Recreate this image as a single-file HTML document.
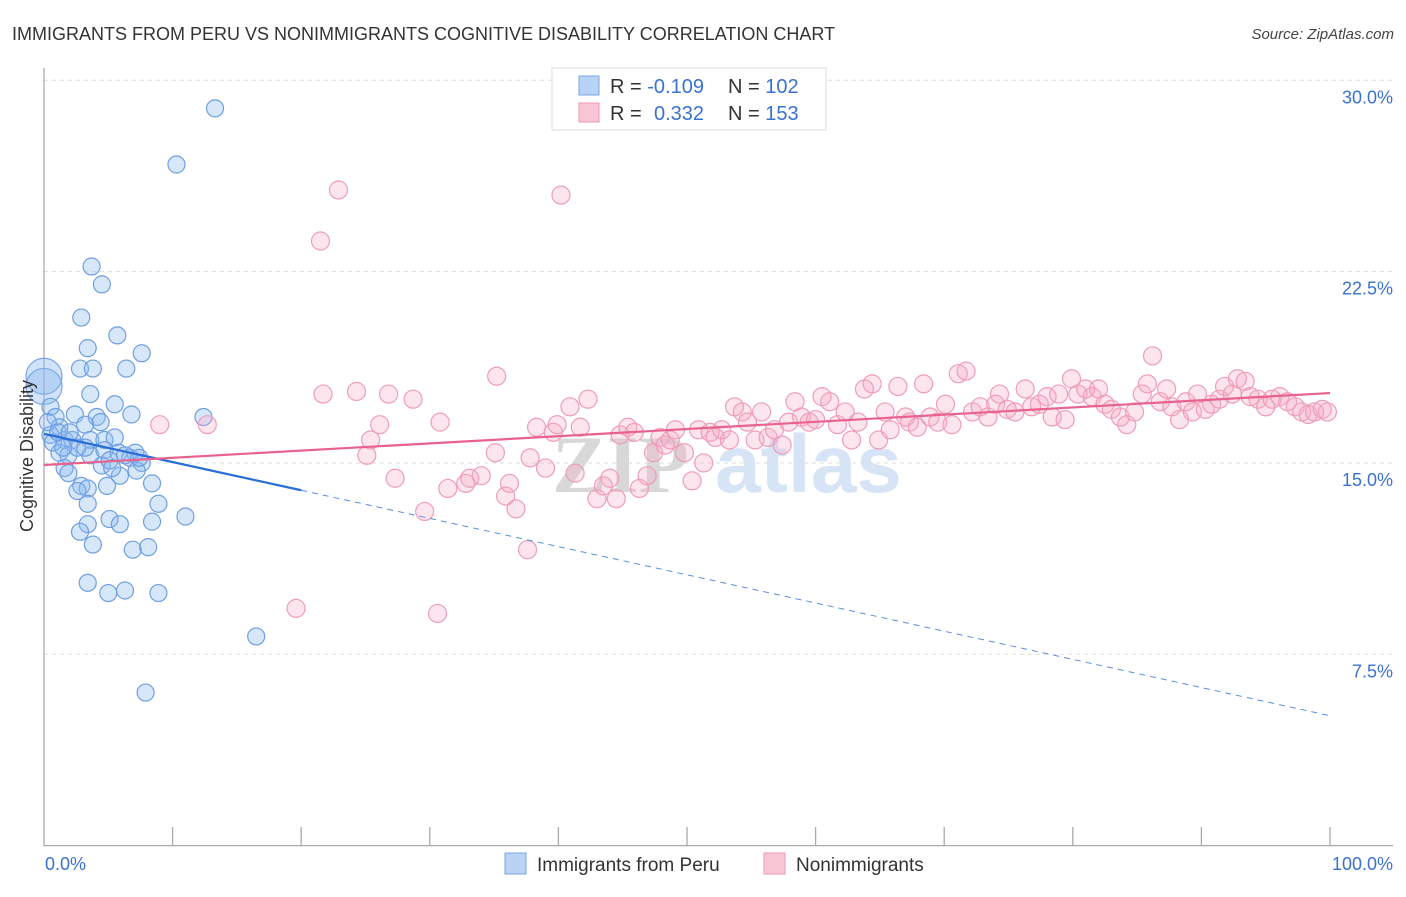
<!DOCTYPE html>
<html><head><meta charset="utf-8"><style>
html,body{margin:0;padding:0;background:#fff;}
body{width:1406px;height:892px;overflow:hidden;font-family:"Liberation Sans",sans-serif;}
</style></head><body>
<svg id="chart" width="1406" height="892" xmlns="http://www.w3.org/2000/svg" font-family="Liberation Sans, sans-serif">
<text x="12" y="40" font-size="18" fill="#333">IMMIGRANTS FROM PERU VS NONIMMIGRANTS COGNITIVE DISABILITY CORRELATION CHART</text>
<text x="1394" y="39" font-size="15" fill="#444" font-style="italic" text-anchor="end">Source: ZipAtlas.com</text>
<g>
<text x="552" y="492" font-size="82" fill="#d8d8d8" font-family="Liberation Serif, serif" font-weight="bold">ZIP</text>
<text x="715" y="492" font-size="82" fill="#d6e4f5" font-weight="bold">atlas</text>
</g>
<g id="grid"></g>
<g id="axes"></g>
<g id="blue"></g>
<g id="pink"></g>
<g id="lines"></g>
<text transform="translate(33,456) rotate(-90)" font-size="18" fill="#333" text-anchor="middle">Cognitive Disability</text>
<g>
<rect x="552" y="68" width="274" height="62" fill="#fff" stroke="#ddd"/>
<rect x="579" y="76" width="20" height="19" fill="#b8d3f5" stroke="#7aa6e6"/>
<rect x="579" y="103" width="20" height="19" fill="#f9c6d5" stroke="#ee9ab4"/>
<text x="610" y="93" font-size="20" fill="#333">R = <tspan fill="#3a72d0">-0.109</tspan><tspan x="728">N = </tspan><tspan fill="#3a72d0">102</tspan></text>
<text x="610" y="120" font-size="20" fill="#333">R = <tspan x="654" fill="#3a72d0">0.332</tspan><tspan x="728">N = </tspan><tspan fill="#3a72d0">153</tspan></text>
</g>
<g>
<rect x="505" y="853" width="21" height="21" fill="#b8d3f5" stroke="#7aa6e6"/>
<text x="537" y="871" font-size="19" fill="#333">Immigrants from Peru</text>
<rect x="764" y="853" width="21" height="21" fill="#f9c6d5" stroke="#ee9ab4"/>
<text x="796" y="871" font-size="19" fill="#333">Nonimmigrants</text>
</g>
</svg>
<script>
const yTicks=[7.5,15,22.5,30];
const yTickLabels=["7.5%","15.0%","22.5%","30.0%"];
const xTicks=[0,10,20,30,40,50,60,70,80,90,100];
const blueX=[13.3,10.3,3.7,4.5,2.9,5.7,3.4,7.6,2.8,3.8,6.4,3.6,5.5,12.4,0.5,0.9,2.4,4.1,6.8,1.2,3.2,4.4,0.5,1.6,2.2,3.6,4.7,5.5,1.2,1.9,3.6,4.7,5.8,6.7,7.1,7.6,1.6,4.5,5.9,7.2,1.9,8.4,2.9,3.4,2.6,4.9,3.4,8.9,11.0,5.1,8.4,3.4,5.9,2.8,3.8,6.9,8.1,3.4,5.0,6.3,8.9,16.5,7.9,0.3,0.7,1.1,2.0,2.6,3.2,1.5,5.1,6.3,7.4,5.3];
const blueY=[28.9,26.7,22.7,22.0,20.7,20.0,19.5,19.3,18.7,18.7,18.7,17.7,17.3,16.8,17.2,16.8,16.9,16.8,16.9,16.4,16.5,16.6,16.1,15.9,15.9,15.9,15.9,16.0,15.4,15.3,15.3,15.5,15.4,15.2,15.4,15.0,14.8,14.9,14.5,14.7,14.6,14.2,14.1,14.0,13.9,14.1,13.4,13.4,12.9,12.8,12.7,12.6,12.6,12.3,11.8,11.6,11.7,10.3,9.9,10.0,9.9,8.2,6.0,16.6,15.8,16.2,16.2,15.6,15.6,15.6,15.1,15.3,15.2,14.8];
const blueBigX=[0,0];
const blueBigY=[18.4,18.0];
const pinkX=[22.9,40.2,21.5,9.0,12.7,19.6,30.6,21.7,24.3,26.8,28.7,35.2,26.1,25.4,25.1,27.3,29.6,30.8,31.4,32.8,33.1,34.0,35.1,35.9,36.2,36.7,37.6,37.8,38.3,39.0,39.6,39.9,40.9,41.3,41.7,42.3,43.0,43.5,44.0,44.5,44.8,45.4,45.9,46.3,46.9,47.4,47.9,48.3,48.7,49.1,49.8,50.4,50.9,51.3,51.8,52.2,52.7,53.3,53.7,54.3,54.7,55.3,55.8,56.3,56.8,57.4,57.9,58.4,58.9,59.5,60.0,60.5,61.1,61.7,62.3,62.8,63.3,63.8,64.4,64.9,65.4,65.8,66.4,67.0,67.3,67.9,68.4,68.9,69.5,70.1,70.6,71.1,71.7,72.2,72.8,73.4,74.0,74.3,74.9,75.5,76.3,76.8,77.4,78.0,78.4,78.9,79.4,79.9,80.4,81.0,81.5,82.0,82.5,83.0,83.7,84.2,84.8,85.4,85.8,86.2,86.8,87.3,87.7,88.3,88.8,89.3,89.7,90.3,90.8,91.4,91.8,92.4,92.8,93.4,93.8,94.4,95.0,95.5,96.1,96.7,97.3,97.8,98.3,98.8,99.4,99.8];
const pinkY=[25.7,25.5,23.7,16.5,16.5,9.3,9.1,17.7,17.8,17.7,17.5,18.4,16.5,15.9,15.3,14.4,13.1,16.6,14.0,14.2,14.4,14.5,15.4,13.7,14.2,13.2,11.6,15.2,16.4,14.8,16.2,16.5,17.2,14.6,16.4,17.5,13.6,14.1,14.4,13.6,16.1,16.4,16.2,14.0,14.5,15.4,16.0,15.7,15.9,16.3,15.4,14.3,16.3,15.0,16.2,16.0,16.3,15.9,17.2,17.0,16.6,15.9,17.0,16.0,16.3,15.7,16.6,17.4,16.8,16.6,16.7,17.6,17.4,16.5,17.0,15.9,16.6,17.9,18.1,15.9,17.0,16.3,18.0,16.8,16.6,16.4,18.1,16.8,16.6,17.3,16.5,18.5,18.6,17.0,17.2,16.8,17.3,17.7,17.1,17.0,17.9,17.2,17.3,17.6,16.8,17.7,16.7,18.3,17.7,17.9,17.6,17.9,17.3,17.1,16.8,16.5,17.0,17.7,18.1,19.2,17.4,17.9,17.2,16.7,17.4,17.0,17.7,17.1,17.3,17.5,18.0,17.7,18.3,18.2,17.6,17.5,17.2,17.5,17.6,17.4,17.2,17.0,16.9,17.0,17.1,17.0];
const blueTrend=[16.14,5.09];
const blueSolidEnd=20;
const pinkTrend=[14.92,17.74];

const NS="http://www.w3.org/2000/svg";
const X0=44,X1=1330,Y0=845.6,PPY=25.51;
function sx(v){return X0+(X1-X0)*v/100;}
function sy(v){return Y0-v*PPY;}
function mk(tag,attrs,parent){const e=document.createElementNS(NS,tag);for(const k in attrs)e.setAttribute(k,attrs[k]);parent.appendChild(e);return e;}
const grid=document.getElementById('grid'),axes=document.getElementById('axes');
yTicks.forEach((t,i)=>{
  const l=mk('line',{x1:X0,x2:1393,y1:sy(t),y2:sy(t),stroke:'#ddd','stroke-dasharray':'4,4'},grid);
  
  
  const tx=mk('text',{x:1393,y:sy(t)+23,'font-size':18,fill:'#3a72d0','text-anchor':'end'},grid);
  tx.textContent=yTickLabels[i];
  
  
});
const ax=mk('path',{d:`M${X0} 68 V${Y0} H1393`,stroke:'#aaa',fill:'none','stroke-width':1.3},axes);


xTicks.forEach(t=>{if(t===0)return;
  const l=mk('line',{x1:sx(t),x2:sx(t),y1:827,y2:Y0,stroke:'#aaa','stroke-width':1.3},axes);
  
  
});
const xl0=mk('text',{x:45,y:870,'font-size':18,fill:'#3a72d0'},axes);xl0.textContent='0.0%';


const xl1=mk('text',{x:1393,y:870,'font-size':18,fill:'#3a72d0','text-anchor':'end'},axes);xl1.textContent='100.0%';


const bg=document.getElementById('blue'),pg=document.getElementById('pink');
blueBigX.forEach((x,i)=>{
  const c=mk('circle',{cx:sx(x),cy:sy(blueBigY[i]),r:18,fill:'rgba(140,185,240,0.4)',stroke:'#7aa6e6','stroke-width':1.2},bg);
  
  
});
blueX.forEach((x,i)=>{
  const c=mk('circle',{cx:sx(x),cy:sy(blueY[i]),r:8.5,fill:'rgba(140,185,240,0.35)',stroke:'#6f9fe2','stroke-width':1.2},bg);
  
  
});
pinkX.forEach((x,i)=>{
  const c=mk('circle',{cx:sx(x),cy:sy(pinkY[i]),r:9,fill:'rgba(246,170,198,0.3)',stroke:'#ef9db8','stroke-width':1.2},pg);
  
  
});
const lg=document.getElementById('lines');
function ty(tr,x){return tr[0]+(tr[1]-tr[0])*x/100;}
const bs=mk('line',{x1:sx(0),y1:sy(ty(blueTrend,0)),x2:sx(blueSolidEnd),y2:sy(ty(blueTrend,blueSolidEnd)),stroke:'#2a6fd6','stroke-width':2.2},lg);


const bd=mk('line',{x1:sx(blueSolidEnd),y1:sy(ty(blueTrend,blueSolidEnd)),x2:sx(100),y2:sy(ty(blueTrend,100)),stroke:'#5a8fdc','stroke-width':1,'stroke-dasharray':'6,5'},lg);


const pl=mk('line',{x1:sx(0),y1:sy(ty(pinkTrend,0)),x2:sx(100),y2:sy(ty(pinkTrend,100)),stroke:'#e8628e','stroke-width':2.2},lg);


</script>
</body></html>
